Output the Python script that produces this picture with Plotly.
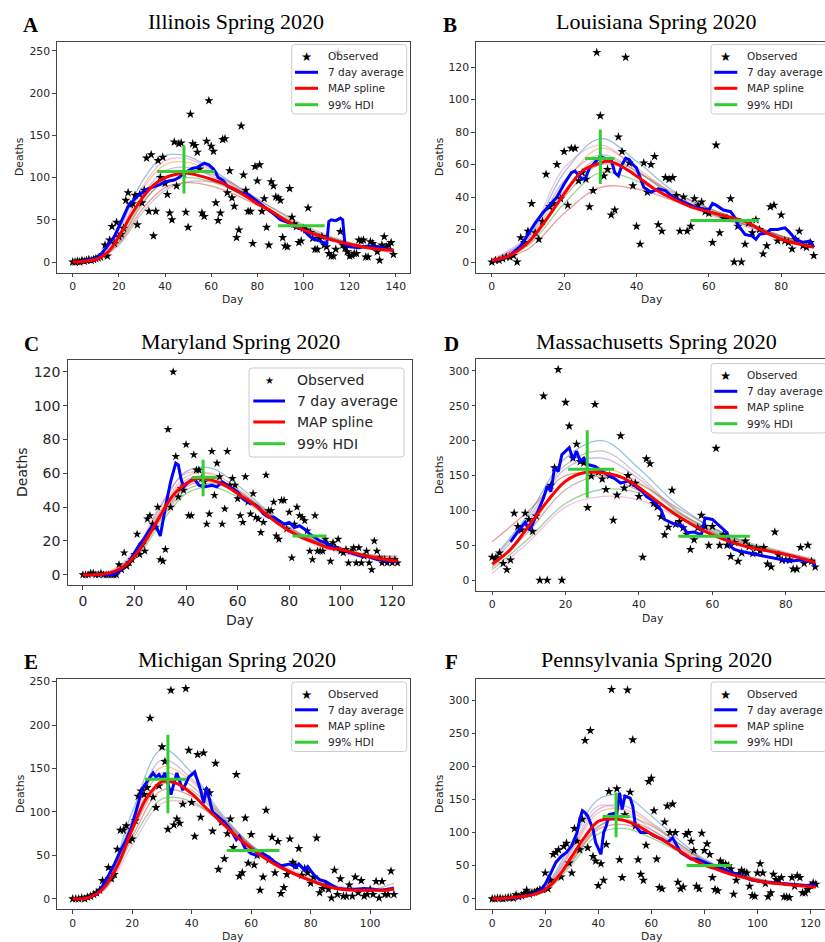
import plotly.graph_objects as go

W, H = 825, 942

# ---------------- Illinois ----------------
IL_OBS = [0, 0, 1, 0, 2, 1, 2, 3, 2, 3,
          4, 5, 6, 9, 20, 7, 26, 42, 22, 47,
          30, 33, 40, 73, 82, 68, 69, 79, 44, 80,
          70, 85, 123, 60, 127, 31, 60, 120, 100, 124,
          93, 80, 58, 50, 142, 90, 140, 141, 105, 59,
          41, 175, 140, 138, 130, 110, 58, 54, 143, 191,
          137, 131, 70, 49, 58, 145, 146, 82, 108, 76,
          66, 29, 38, 161, 103, 85, 60, 60, 22, 113,
          96, 115, 60, 75, 41, 20, 95, 90, 77, 76,
          73, 29, 19, 18, 87, 53, 45, 42, 23, 25,
          40, 38, 64, 35, 28, 15, 15, 28, 30, 20,
          18, 10, 7, 7, 15, 248, 36, 20, 16, 12,
          7, 8, 10, 10, 26, 25, 26, 6, 6, 24,
          22, 18, 12, 2, 20, 30, 18, 20, 23, 9]
IL_AVG_DAY = [3, 4, 8, 10, 12, 14, 16, 18, 20, 22, 24, 26, 28, 30, 32, 34, 36, 38, 40, 42,
              44, 46, 48, 50, 52, 54, 56, 57, 59, 61, 62, 63, 65, 67, 70, 73, 76, 78, 80, 82,
              84, 86, 88, 90, 92, 94, 96, 98, 100, 102, 104, 106, 108, 110, 111, 112, 114, 116, 117, 118,
              120, 124, 128, 132, 136, 139]
IL_AVG = [1, 1, 3, 5, 8, 15, 22, 30, 42, 55, 66, 72, 78, 82, 86, 88, 90, 92, 95, 96,
          97, 100, 105, 108, 111, 112, 115, 117, 115, 110, 106, 100, 97, 90, 86, 82, 80, 76, 72, 68,
          64, 60, 55, 50, 48, 46, 42, 40, 38, 32, 28, 26, 24, 20, 48, 50, 49, 52, 50, 20,
          18, 17, 19, 18, 16, 14]
IL_MAP_DAY = [0, 5, 10, 15, 20, 25, 30, 35, 40, 45, 50, 55, 60, 65, 70, 75, 80, 85, 90, 95,
              100, 110, 120, 130, 139]
IL_MAP = [0, 1, 3, 11, 30, 54, 75, 91, 100, 104, 105, 102, 98, 93, 86, 78, 69, 62, 53, 45,
          38, 28, 21, 16, 14]
IL_SAMPLE_DAY = [0, 10, 20, 30, 40, 50, 60, 70, 80, 90, 100, 110, 120, 130, 139]
IL_SAMPLES = [
    [0, 4, 38, 95, 126, 125, 110, 92, 72, 54, 40, 30, 22, 17, 14],
    [0, 3, 32, 85, 115, 118, 106, 90, 72, 55, 41, 30, 23, 17, 14],
    [0, 2, 25, 70, 95, 100, 95, 84, 69, 54, 40, 30, 22, 17, 14],
    [0, 2, 22, 62, 88, 94, 90, 80, 67, 53, 40, 30, 22, 16, 13],
    [0, 3, 28, 78, 108, 112, 102, 88, 71, 55, 41, 30, 22, 16, 12],
    [0, 2, 24, 68, 98, 108, 104, 92, 75, 58, 42, 30, 21, 15, 11],
    [0, 3, 34, 88, 120, 122, 108, 90, 70, 52, 38, 28, 21, 16, 13],
    [0, 2, 20, 58, 85, 95, 95, 88, 74, 59, 44, 32, 23, 17, 14],
]
IL_PEAK_DAY, IL_PEAK_VAL_HDI = 48.2, [81, 138]
IL_PEAK_VAL, IL_PEAK_DAY_HDI = 107, [36.6, 61.5]
IL_TAIL_VAL, IL_TAIL_DAY_HDI = 43, [89, 109.2]

# ---------------- Louisiana ----------------
LA_OBS = [0, 1, 1, 2, 3, 3, 4, 0, 15, 12,
          19, 36, 18, 14, 25, 54, 34, 36, 60, 39,
          68, 35, 70, 70, 50, 55, 51, 34, 44, 129,
          90, 53, 57, 29, 32, 77, 68, 126, 61, 47,
          22, 11, 61, 43, 60, 65, 23, 19, 52, 51,
          52, 41, 19, 40, 19, 22, 39, 35, 37, 31,
          30, 12, 72, 18, 27, 27, 39, 0, 22, 0,
          11, 24, 18, 26, 20, 5, 10, 34, 35, 13,
          29, 13, 12, 8, 14, 19, 10, 9, 12, 4]
LA_AVG_DAY = [0, 3, 5, 8, 10, 12, 14, 16, 18, 20, 22, 23, 25, 26, 27, 28, 30, 31, 33, 34,
              35, 36, 37, 38, 39, 40, 41, 42, 44, 46, 48, 50, 52, 54, 56, 58, 60, 61, 62, 64,
              66, 67, 68, 69, 70, 72, 73, 74, 76, 77, 79, 81, 82, 84, 86, 88, 89]
LA_AVG = [1, 2, 4, 10, 17, 24, 30, 35, 40, 48, 55, 56, 51, 52, 58, 60, 65, 64, 63, 55,
          53, 60, 64, 63, 60, 58, 52, 46, 43, 45, 44, 40, 38, 36, 34, 33, 32, 36, 35, 32,
          31, 28, 23, 20, 17, 16, 14, 17, 18, 20, 20, 21, 19, 14, 12, 13, 9]
LA_MAP_DAY = [0, 5, 10, 15, 20, 25, 30, 32, 35, 40, 45, 50, 55, 60, 65, 70, 75, 80, 85, 89]
LA_MAP = [1, 4, 12, 26, 42, 56, 61, 62, 60, 53, 45, 39, 34, 31, 28, 25, 19, 14, 11, 9]
LA_SAMPLE_DAY = [0, 10, 20, 30, 40, 50, 60, 70, 80, 89]
LA_SAMPLES = [
    [1, 15, 55, 76, 62, 44, 33, 25, 16, 11],
    [1, 13, 48, 70, 58, 42, 32, 24, 16, 11],
    [1, 10, 36, 55, 50, 39, 30, 23, 15, 10],
    [1, 8, 30, 46, 45, 38, 30, 23, 16, 11],
    [1, 14, 50, 66, 56, 41, 31, 24, 15, 10],
    [1, 11, 40, 60, 55, 43, 33, 25, 16, 12],
    [2, 16, 58, 72, 57, 40, 29, 22, 14, 9],
    [1, 12, 44, 64, 56, 41, 31, 23, 15, 10],
]
LA_PEAK_DAY, LA_PEAK_VAL_HDI = 30, [48, 81.6]
LA_PEAK_VAL, LA_PEAK_DAY_HDI = 63.8, [25.8, 33.9]
LA_TAIL_VAL, LA_TAIL_DAY_HDI = 25.6, [54.9, 73.8]

# ---------------- Maryland ----------------
MD_OBS = [0, 0, 0, 1, 1, 0, 0, 1, 0, 0,
          0, 0, 0, 0, 6, 3, 13, 5, 7, 9,
          12, 24, 12, 18, 14, 33, 35, 30, 28, 40,
          9, 8, 15, 86, 40, 120, 70, 46, 51, 50,
          77, 35, 35, 71, 62, 62, 57, 55, 30, 36,
          73, 47, 66, 58, 30, 39, 73, 53, 57, 53,
          45, 35, 31, 58, 43, 36, 48, 34, 33, 25,
          31, 59, 38, 38, 43, 23, 21, 44, 44, 27,
          37, 10, 30, 40, 35, 34, 32, 26, 14, 9,
          35, 14, 14, 14, 21, 18, 8, 19, 16, 21,
          14, 13, 15, 7, 14, 16, 7, 16, 7, 11,
          14, 7, 3, 20, 14, 10, 7, 9, 7, 9,
          7, 9, 7]
MD_AVG_DAY = [3, 12, 14, 16, 18, 20, 22, 24, 26, 28, 29, 30, 32, 34, 36, 37, 38, 39, 41, 43,
              45, 47, 50, 52, 54, 56, 58, 60, 62, 64, 66, 68, 70, 72, 74, 76, 78, 80, 82, 84,
              86, 88, 90, 92, 94, 96, 98, 100, 102, 104, 106, 108, 110, 112, 114, 116, 118, 120, 122]
MD_AVG = [0, 0, 2, 5, 8, 13, 18, 22, 27, 30, 26, 23, 40, 55, 66, 65, 57, 52, 55, 57,
          53, 52, 53, 52, 55, 53, 51, 49, 45, 43, 42, 40, 36, 34, 34, 32, 30, 31, 28, 29,
          27, 24, 22, 20, 19, 17, 16, 15, 14, 13, 12, 11, 11, 10, 9, 9, 8, 8, 8]
MD_MAP_DAY = [0, 5, 10, 15, 20, 25, 30, 35, 40, 45, 50, 55, 60, 65, 70, 75, 80, 85, 90, 95,
              100, 110, 122]
MD_MAP = [0, 0, 1, 4, 11, 22, 35, 47, 54, 57, 56, 53, 48, 43, 37, 31, 26, 22, 19, 16,
          15, 11, 8]
MD_SAMPLE_DAY = [0, 10, 20, 30, 40, 50, 60, 70, 80, 90, 100, 110, 122]
MD_SAMPLES = [
    [0, 1, 13, 40, 61, 63, 53, 40, 28, 20, 15, 11, 8],
    [0, 1, 12, 38, 58, 60, 51, 39, 27, 20, 15, 11, 9],
    [0, 1, 9, 30, 48, 52, 46, 36, 26, 19, 14, 11, 8],
    [0, 1, 10, 33, 52, 55, 48, 38, 27, 20, 15, 12, 10],
    [0, 1, 12, 37, 56, 58, 50, 38, 26, 19, 14, 10, 7],
    [0, 1, 10, 32, 50, 54, 49, 39, 28, 21, 16, 12, 11],
    [0, 2, 14, 41, 60, 59, 49, 37, 25, 18, 13, 10, 7],
    [0, 1, 11, 34, 53, 57, 50, 38, 26, 19, 14, 11, 8],
]
MD_PEAK_DAY, MD_PEAK_VAL_HDI = 46.6, [46.5, 68]
MD_PEAK_VAL, MD_PEAK_DAY_HDI = 57.5, [42.2, 51.9]
MD_TAIL_VAL, MD_TAIL_DAY_HDI = 23, [81.3, 94.5]

# ---------------- Massachusetts ----------------
MA_OBS = [33, 32, 39, 24, 15, 29, 96, 77, 72, 96,
          87, 70, 92, 0, 264, 0, 136, 161, 302, 0,
          255, 221, 175, 195, 170, 168, 104, 149, 252, 155,
          145, 130, 150, 86, 122, 207, 132, 150, 139, 139,
          120, 33, 174, 167, 110, 105, 91, 65, 76, 129,
          80, 84, 75, 66, 44, 58, 75, 93, 77, 50,
          77, 189, 50, 65, 50, 34, 54, 27, 39, 56,
          48, 38, 46, 42, 47, 23, 19, 69, 36, 29,
          29, 29, 16, 16, 47, 24, 50, 27, 19]
MA_AVG_DAY = [5, 7, 9, 10, 11, 12, 14, 15, 16, 17, 18, 19, 21, 22, 23, 24, 25, 26, 28, 30,
              32, 33, 35, 37, 39, 41, 42, 44, 46, 47, 49, 52, 53, 55, 57, 58, 60, 62, 64, 65,
              66, 68, 70, 73, 77, 81, 84, 85, 87, 88]
MA_AVG = [55, 70, 83, 72, 80, 92, 118, 135, 127, 161, 156, 180, 190, 173, 185, 170, 175, 166, 163, 156,
          149, 147, 139, 142, 135, 127, 120, 113, 101, 87, 82, 77, 68, 69, 65, 89, 87, 77, 68, 48,
          44, 41, 39, 36, 32, 27, 29, 27, 27, 20]
MA_MAP_DAY = [0, 5, 10, 15, 20, 25, 30, 35, 40, 45, 50, 55, 60, 65, 70, 75, 80, 85, 88]
MA_MAP = [23, 44, 78, 113, 142, 154, 154, 148, 133, 113, 94, 78, 65, 55, 47, 42, 37, 30, 25]
MA_SAMPLE_DAY = [0, 10, 20, 30, 40, 50, 60, 70, 80, 88]
MA_SAMPLES = [
    [30, 95, 175, 200, 160, 110, 75, 52, 38, 28],
    [20, 75, 140, 160, 140, 100, 70, 50, 36, 25],
    [15, 60, 110, 130, 125, 98, 72, 52, 38, 28],
    [55, 100, 150, 150, 128, 95, 68, 50, 36, 26],
    [25, 85, 160, 175, 145, 100, 68, 48, 35, 26],
    [18, 70, 130, 150, 138, 105, 75, 54, 40, 30],
    [10, 55, 105, 120, 115, 92, 68, 50, 37, 27],
    [28, 90, 165, 185, 150, 102, 70, 49, 36, 26],
]
MA_PEAK_DAY, MA_PEAK_VAL_HDI = 25.9, [118, 215]
MA_PEAK_VAL, MA_PEAK_DAY_HDI = 159, [20.7, 33.2]
MA_TAIL_VAL, MA_TAIL_DAY_HDI = 63, [50.7, 70.2]

# ---------------- Michigan ----------------
MI_OBS = [0, 0, 0, 1, 0, 2, 3, 5, 7, 10,
          21, 20, 36, 23, 28, 57, 79, 79, 84, 67,
          69, 90, 118, 124, 120, 128, 208, 117, 105, 130,
          175, 158, 80, 240, 85, 92, 87, 109, 242, 171,
          111, 72, 166, 94, 168, 125, 122, 78, 156, 34,
          88, 46, 75, 92, 59, 143, 26, 30, 93, 41,
          74, 39, 50, 10, 25, 102, 45, 71, 30, 66,
          6, 13, 28, 69, 42, 38, 58, 27, 35, 30,
          18, 25, 70, 7, 12, 15, 11, 1, 33, 5,
          23, 3, 3, 16, 3, 25, 7, 21, 3, 5,
          11, 5, 20, 1, 20, 5, 5, 32, 5]
MI_AVG_DAY = [3, 5, 8, 10, 12, 14, 16, 18, 20, 22, 23, 24, 25, 27, 28, 29, 30, 31, 33, 35,
              37, 39, 41, 43, 44, 45, 47, 49, 51, 53, 55, 56, 58, 60, 62, 64, 66, 68, 70, 73,
              75, 76, 78, 79, 81, 83, 85, 87, 89, 92, 95, 98, 101, 104, 106, 108]
MI_AVG = [0, 1, 5, 15, 27, 40, 55, 68, 85, 108, 122, 130, 135, 145, 140, 143, 138, 145, 120, 145,
          125, 140, 146, 125, 110, 128, 100, 94, 88, 80, 68, 72, 58, 52, 50, 52, 48, 42, 38, 40,
          36, 40, 33, 37, 28, 22, 20, 16, 12, 11, 11, 12, 11, 10, 11, 12]
MI_MAP_DAY = [0, 5, 10, 15, 20, 25, 30, 35, 40, 45, 50, 55, 60, 65, 70, 75, 80, 85, 90, 95,
              100, 105, 108]
MI_MAP = [0, 1, 11, 38, 80, 117, 135, 133, 121, 104, 88, 72, 58, 46, 36, 28, 21, 15, 11, 10,
          10, 10, 11]
MI_SAMPLE_DAY = [0, 10, 20, 30, 40, 50, 60, 70, 80, 90, 100, 108]
MI_SAMPLES = [
    [0, 14, 100, 172, 145, 98, 62, 38, 22, 12, 10, 13],
    [0, 12, 88, 152, 135, 95, 62, 38, 22, 12, 10, 12],
    [0, 9, 68, 115, 112, 88, 60, 38, 22, 13, 10, 11],
    [0, 10, 72, 125, 118, 90, 60, 37, 21, 12, 10, 12],
    [0, 13, 92, 160, 138, 96, 61, 37, 21, 11, 9, 14],
    [0, 11, 78, 132, 125, 92, 61, 38, 22, 12, 10, 11],
    [0, 8, 62, 110, 110, 88, 62, 40, 24, 14, 11, 10],
    [0, 12, 85, 145, 130, 94, 61, 37, 21, 12, 10, 18],
]
MI_PEAK_DAY, MI_PEAK_VAL_HDI = 32, [98.5, 189]
MI_PEAK_VAL, MI_PEAK_DAY_HDI = 137.6, [24.3, 38.1]
MI_TAIL_VAL, MI_TAIL_DAY_HDI = 55.6, [51.8, 69.5]

# ---------------- Pennsylvania ----------------
PA_OBS = [0, 0, 1, 1, 0, 1, 2, 2, 1, 6,
          3, 5, 8, 13, 7, 9, 10, 12, 14, 14,
          39, 15, 28, 67, 70, 74, 33, 79, 84, 54,
          39, 106, 87, 74, 120, 239, 77, 254, 64, 57,
          20, 53, 28, 82, 162, 316, 125, 166, 59, 32,
          127, 315, 161, 240, 110, 59, 37, 28, 81, 177,
          182, 133, 60, 17, 15, 116, 140, 100, 143, 100,
          25, 15, 18, 97, 100, 87, 73, 19, 15, 99,
          73, 83, 67, 32, 14, 12, 57, 53, 52, 50,
          45, 7, 28, 38, 43, 40, 39, 19, 5, 4,
          39, 53, 39, 23, 3, 9, 37, 29, 29, 32,
          3, 3, 2, 32, 19, 35, 32, 9, 9, 14,
          20, 24, 22]
PA_AVG_DAY = [3, 5, 10, 12, 15, 18, 20, 22, 24, 26, 28, 30, 32, 33, 34, 35, 36, 37, 38, 39,
              40, 41, 42, 43, 44, 45, 46, 47, 48, 49, 50, 52, 53, 54, 56, 59, 61, 64, 66, 68,
              69, 71, 73, 75, 77, 80, 82, 85, 87, 90, 92, 95, 98, 100, 103, 107, 110, 114, 118, 122]
PA_AVG = [0, 1, 2, 4, 7, 12, 22, 38, 55, 64, 70, 80, 100, 120, 133, 130, 125, 115, 105, 85,
          75, 67, 100, 110, 127, 128, 128, 130, 160, 135, 155, 152, 140, 110, 100, 100, 95, 90, 85, 92,
          85, 70, 65, 60, 60, 55, 52, 48, 45, 40, 37, 32, 28, 27, 25, 24, 23, 22, 20, 21]
PA_MAP_DAY = [0, 5, 10, 15, 20, 25, 30, 35, 40, 45, 50, 55, 60, 65, 70, 75, 80, 85, 90, 95,
              100, 110, 122]
PA_MAP = [0, 1, 3, 6, 14, 34, 64, 94, 117, 121, 118, 110, 98, 87, 74, 61, 51, 44, 37, 32,
          27, 22, 18]
PA_SAMPLE_DAY = [0, 10, 20, 30, 40, 50, 60, 70, 80, 90, 100, 110, 122]
PA_SAMPLES = [
    [0, 4, 20, 85, 150, 155, 125, 90, 60, 42, 30, 24, 20],
    [0, 3, 16, 72, 130, 135, 112, 84, 57, 40, 29, 23, 19],
    [0, 2, 11, 52, 98, 106, 92, 72, 52, 38, 28, 22, 18],
    [0, 2, 12, 56, 105, 112, 97, 76, 55, 40, 29, 23, 19],
    [0, 3, 17, 75, 135, 140, 115, 85, 58, 41, 29, 23, 20],
    [0, 3, 14, 60, 110, 120, 104, 80, 57, 41, 30, 24, 21],
    [0, 4, 18, 78, 140, 132, 105, 78, 53, 38, 27, 21, 17],
    [0, 2, 13, 58, 108, 125, 110, 84, 58, 41, 29, 22, 18],
]
PA_PEAK_DAY, PA_PEAK_VAL_HDI = 46.7, [92.8, 160.6]
PA_PEAK_VAL, PA_PEAK_DAY_HDI = 124.4, [41.6, 51.9]
PA_TAIL_VAL, PA_TAIL_DAY_HDI = 50.2, [73.3, 90]

TITLES = ["Illinois Spring 2020", "Louisiana Spring 2020", "Maryland Spring 2020",
          "Massachusetts Spring 2020", "Michigan Spring 2020", "Pennsylvania Spring 2020"]
LETTERS = ["A", "B", "C", "D", "E", "F"]
LEGEND_NAMES = ["Observed", "7 day average", "MAP spline", "99% HDI"]

DATA = [
    (IL_OBS, IL_AVG_DAY, IL_AVG, IL_MAP_DAY, IL_MAP, IL_SAMPLE_DAY, IL_SAMPLES,
     IL_PEAK_DAY, IL_PEAK_VAL_HDI, IL_PEAK_VAL, IL_PEAK_DAY_HDI, IL_TAIL_VAL, IL_TAIL_DAY_HDI),
    (LA_OBS, LA_AVG_DAY, LA_AVG, LA_MAP_DAY, LA_MAP, LA_SAMPLE_DAY, LA_SAMPLES,
     LA_PEAK_DAY, LA_PEAK_VAL_HDI, LA_PEAK_VAL, LA_PEAK_DAY_HDI, LA_TAIL_VAL, LA_TAIL_DAY_HDI),
    (MD_OBS, MD_AVG_DAY, MD_AVG, MD_MAP_DAY, MD_MAP, MD_SAMPLE_DAY, MD_SAMPLES,
     MD_PEAK_DAY, MD_PEAK_VAL_HDI, MD_PEAK_VAL, MD_PEAK_DAY_HDI, MD_TAIL_VAL, MD_TAIL_DAY_HDI),
    (MA_OBS, MA_AVG_DAY, MA_AVG, MA_MAP_DAY, MA_MAP, MA_SAMPLE_DAY, MA_SAMPLES,
     MA_PEAK_DAY, MA_PEAK_VAL_HDI, MA_PEAK_VAL, MA_PEAK_DAY_HDI, MA_TAIL_VAL, MA_TAIL_DAY_HDI),
    (MI_OBS, MI_AVG_DAY, MI_AVG, MI_MAP_DAY, MI_MAP, MI_SAMPLE_DAY, MI_SAMPLES,
     MI_PEAK_DAY, MI_PEAK_VAL_HDI, MI_PEAK_VAL, MI_PEAK_DAY_HDI, MI_TAIL_VAL, MI_TAIL_DAY_HDI),
    (PA_OBS, PA_AVG_DAY, PA_AVG, PA_MAP_DAY, PA_MAP, PA_SAMPLE_DAY, PA_SAMPLES,
     PA_PEAK_DAY, PA_PEAK_VAL_HDI, PA_PEAK_VAL, PA_PEAK_DAY_HDI, PA_TAIL_VAL, PA_TAIL_DAY_HDI),
]

# Legend box styles: size, row offsets, handle span, text offset, font size, star size
SMALL_LEGEND = dict(w=115, h=69.5, rows=[11.5, 27.8, 43.8, 60.2], handle=(3.3, 26.3),
                    text=34.3, fs=10.5, star=12.5)
LARGE_LEGEND = dict(w=155, h=89, rows=[12, 33, 54, 75.7], handle=(4.3, 36),
                    text=46, fs=14, star=10)

# Panel geometry in pixels: plot box (left, right, top, bottom), axis ranges, ticks
LAYOUTS = [
    dict(box=(56.7, 409.5, 42, 272.5), xr=[-6.95, 145.95], yr=[-12.4, 260.4],
         xt=list(range(0, 141, 20)), yt=list(range(0, 251, 50)), fs=10.8, mirror=True,
         legend=(291.7, 44.5), lstyle=SMALL_LEGEND,
         title=(236, 22), letter=(31, 25), ylab=(20, 157), xlab=(233, 299)),
    dict(box=(475.7, 825, 42, 272.5), xr=[-4.45, 92.1], yr=[-6.45, 135.45],
         xt=list(range(0, 81, 20)), yt=list(range(0, 121, 20)), fs=10.8, mirror=False,
         legend=(711, 44.5), lstyle=SMALL_LEGEND,
         title=(656, 22), letter=(450, 25), ylab=(440, 157), xlab=(652, 299)),
    dict(box=(67.7, 411.7, 360, 585), xr=[-5.9, 127.5], yr=[-6.05, 127.05],
         xt=list(range(0, 121, 20)), yt=list(range(0, 121, 20)), fs=14, mirror=True,
         legend=(249, 368), lstyle=LARGE_LEGEND,
         title=(240, 341), letter=(31, 344), ylab=(22, 472), xlab=(240, 620)),
    dict(box=(476, 825, 359, 590.7), xr=[-4.4, 90.67], yr=[-15.1, 317.1],
         xt=list(range(0, 81, 20)), yt=list(range(0, 301, 50)), fs=10.8, mirror=False,
         legend=(711, 363.5), lstyle=SMALL_LEGEND,
         title=(656, 341), letter=(451, 344), ylab=(439, 475), xlab=(653, 618)),
    dict(box=(56.7, 410, 679, 909.3), xr=[-5.4, 113.4], yr=[-12.05, 253.05],
         xt=list(range(0, 101, 20)), yt=list(range(0, 251, 50)), fs=10.8, mirror=True,
         legend=(291.7, 682), lstyle=SMALL_LEGEND,
         title=(237, 659), letter=(31, 662), ylab=(20, 794), xlab=(233, 936)),
    dict(box=(476, 825, 679, 909.3), xr=[-6.1, 125.45], yr=[-15.8, 331.8],
         xt=list(range(0, 121, 20)), yt=list(range(0, 301, 50)), fs=10.8, mirror=False,
         legend=(711, 682), lstyle=SMALL_LEGEND,
         title=(656, 659), letter=(451, 662), ylab=(439, 794), xlab=(652, 936)),
]

TAB10 = ["#1f77b4", "#ff7f0e", "#2ca02c", "#d62728", "#9467bd",
         "#8c564b", "#e377c2", "#7f7f7f", "#bcbd22", "#17becf"]
BLUE, RED, GREEN = "#0000ff", "#ff0000", "#32cd32"
LEGEND_COLORS = [None, BLUE, RED, GREEN]
TEXT_COLOR = "#262626"


def px_x(x):
    return x / W


def px_y(y):
    return 1 - y / H


def rounded_box(l, t, w, h, r=3):
    """SVG path (paper coordinates) of a rounded legend frame given in pixels."""
    R, B = l + w, t + h
    pts = [
        ("M", l + r, t), ("L", R - r, t), ("Q", R, t, R, t + r), ("L", R, B - r),
        ("Q", R, B, R - r, B), ("L", l + r, B), ("Q", l, B, l, B - r), ("L", l, t + r),
        ("Q", l, t, l + r, t),
    ]
    out = []
    for p in pts:
        cmd, coords = p[0], p[1:]
        xy = []
        for i in range(0, len(coords), 2):
            xy.append(f"{px_x(coords[i]):.5f},{px_y(coords[i + 1]):.5f}")
        out.append(cmd + " ".join(xy))
    return " ".join(out) + " Z"


fig = go.Figure()
annotations = []
shapes = []
layout_upd = {}

for k, (data, lay) in enumerate(zip(DATA, LAYOUTS), start=1):
    (obs, avg_day, avg, map_day, map_val, s_day, samples,
     pk_day, pk_val_hdi, pk_val, pk_day_hdi, tail_val, tail_day_hdi) = data
    sfx = "" if k == 1 else str(k)
    xa, ya = "x" + sfx, "y" + sfx
    fs = lay["fs"]

    # posterior spline draws
    for j, s in enumerate(samples):
        fig.add_trace(go.Scatter(
            x=s_day, y=s, mode="lines", xaxis=xa, yaxis=ya,
            line=dict(color=TAB10[j % 10], width=1.3, shape="spline", smoothing=1.0),
            opacity=0.45, showlegend=False, hoverinfo="skip"))

    fig.add_trace(go.Scatter(
        x=list(range(len(obs))), y=obs, mode="markers", name=LEGEND_NAMES[0],
        xaxis=xa, yaxis=ya, showlegend=False,
        marker=dict(symbol="star", size=7 if k != 3 else 6.5, color="black",
                    line=dict(width=0))))
    fig.add_trace(go.Scatter(
        x=avg_day, y=avg, mode="lines", name=LEGEND_NAMES[1], xaxis=xa, yaxis=ya,
        showlegend=False, line=dict(color=BLUE, width=3)))
    fig.add_trace(go.Scatter(
        x=map_day, y=map_val, mode="lines", name=LEGEND_NAMES[2], xaxis=xa, yaxis=ya,
        showlegend=False, line=dict(color=RED, width=3, shape="spline", smoothing=1.0)))
    hx = [pk_day_hdi[0], pk_day_hdi[1], None, pk_day, pk_day, None,
          tail_day_hdi[0], tail_day_hdi[1]]
    hy = [pk_val, pk_val, None, pk_val_hdi[0], pk_val_hdi[1], None, tail_val, tail_val]
    fig.add_trace(go.Scatter(
        x=hx, y=hy, mode="lines", name=LEGEND_NAMES[3], xaxis=xa, yaxis=ya,
        showlegend=False, line=dict(color=GREEN, width=3)))

    l, r, t, b = lay["box"]
    axis_common = dict(showgrid=False, zeroline=False, showline=True, linecolor="#444444",
                       linewidth=1, ticks="outside", ticklen=3.5, tickwidth=0.8,
                       tickcolor="#444444",
                       tickfont=dict(size=fs, color=TEXT_COLOR, family="DejaVu Sans"))
    layout_upd["xaxis" + sfx] = dict(domain=[px_x(l), px_x(r)], range=lay["xr"],
                                     anchor=ya, tickvals=lay["xt"], mirror=True,
                                     **axis_common)
    layout_upd["yaxis" + sfx] = dict(domain=[px_y(b), px_y(t)], range=lay["yr"],
                                     anchor=xa, tickvals=lay["yt"], mirror=lay["mirror"],
                                     **axis_common)

    # legend frame, handles and labels
    lx, ly = lay["legend"]
    st = lay["lstyle"]
    shapes.append(dict(type="path", xref="paper", yref="paper", layer="above",
                       path=rounded_box(lx, ly, st["w"], st["h"]),
                       fillcolor="rgba(255,255,255,0.8)",
                       line=dict(color="#cccccc", width=1)))
    h0, h1 = st["handle"]
    for i, name in enumerate(LEGEND_NAMES):
        ry = ly + st["rows"][i]
        if LEGEND_COLORS[i] is None:
            annotations.append(dict(x=px_x(lx + (h0 + h1) / 2), y=px_y(ry + 0.5),
                                    xref="paper", yref="paper", text="★", showarrow=False,
                                    xanchor="center", yanchor="middle",
                                    font=dict(family="DejaVu Sans", size=st["star"],
                                              color="black")))
        else:
            shapes.append(dict(type="line", xref="paper", yref="paper", layer="above",
                               x0=px_x(lx + h0), x1=px_x(lx + h1), y0=px_y(ry), y1=px_y(ry),
                               line=dict(color=LEGEND_COLORS[i], width=3)))
        annotations.append(dict(x=px_x(lx + st["text"]), y=px_y(ry), xref="paper",
                                yref="paper", text=name, showarrow=False,
                                xanchor="left", yanchor="middle",
                                font=dict(family="DejaVu Sans", size=st["fs"],
                                          color=TEXT_COLOR)))

    tx, ty = lay["title"]
    annotations.append(dict(x=px_x(tx), y=px_y(ty), xref="paper", yref="paper",
                            text=TITLES[k - 1], showarrow=False, xanchor="center",
                            yanchor="middle",
                            font=dict(family="Liberation Serif", size=22, color="black")))
    cx, cy = lay["letter"]
    annotations.append(dict(x=px_x(cx), y=px_y(cy), xref="paper", yref="paper",
                            text="<b>" + LETTERS[k - 1] + "</b>", showarrow=False,
                            xanchor="center", yanchor="middle",
                            font=dict(family="Liberation Serif", size=21, color="black")))
    yx, yy = lay["ylab"]
    annotations.append(dict(x=px_x(yx), y=px_y(yy), xref="paper", yref="paper",
                            text="Deaths", showarrow=False, textangle=-90,
                            xanchor="center", yanchor="middle",
                            font=dict(family="DejaVu Sans", size=fs, color=TEXT_COLOR)))
    dx, dy = lay["xlab"]
    annotations.append(dict(x=px_x(dx), y=px_y(dy), xref="paper", yref="paper",
                            text="Day", showarrow=False, xanchor="center", yanchor="middle",
                            font=dict(family="DejaVu Sans", size=fs, color=TEXT_COLOR)))

fig.update_layout(
    width=W, height=H,
    margin=dict(l=0, r=0, t=0, b=0, autoexpand=False),
    paper_bgcolor="white", plot_bgcolor="white",
    font=dict(family="DejaVu Sans", color=TEXT_COLOR),
    annotations=annotations,
    shapes=shapes,
    showlegend=False,
    hovermode=False,
    **layout_upd,
)

fig.write_html("out.html")
